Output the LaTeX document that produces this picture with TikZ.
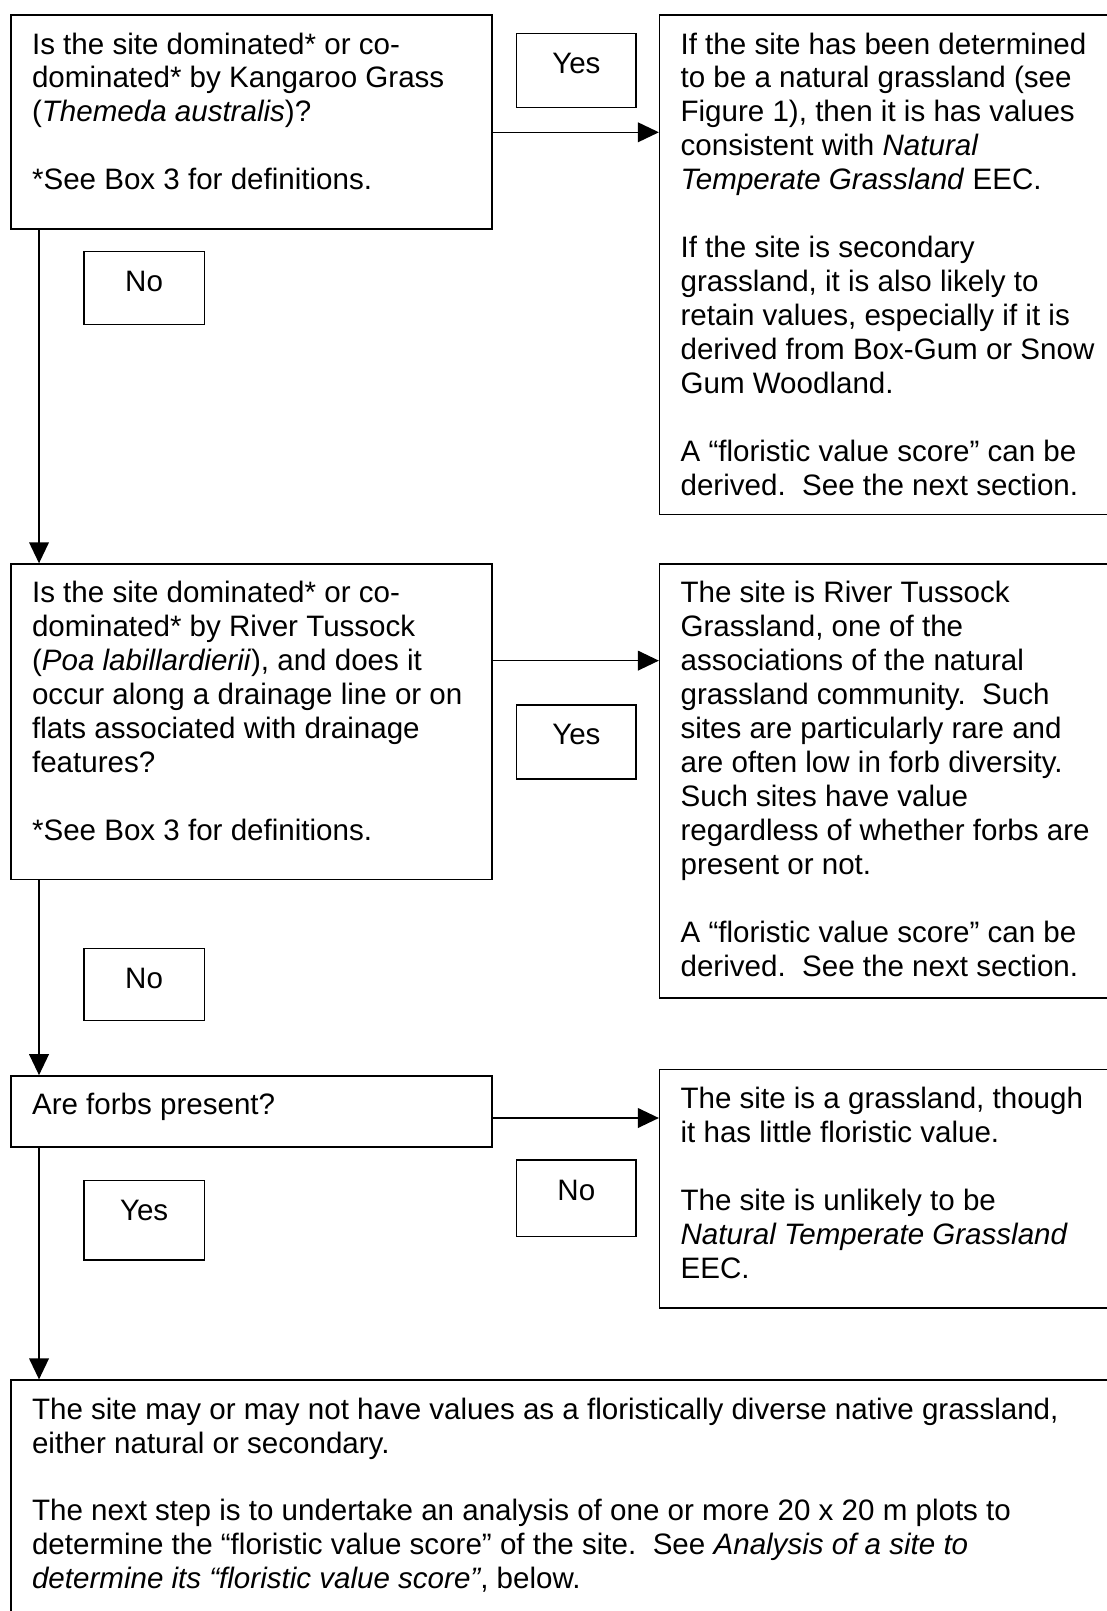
\documentclass[tikz,border=0pt]{standalone}
\usepackage{fontspec}
\setmainfont{Liberation Sans}
\usetikzlibrary{arrows.meta}

\tikzset{
  qbox/.style={draw, line width=0.6pt, anchor=north west, inner xsep=0.3cm, inner ysep=0.25cm},
  tagbox/.style={draw, line width=0.6pt, anchor=north west, inner xsep=0pt, inner ysep=0.28cm},
  flow/.style={line width=0.55pt, -{Triangle[length=8.5pt,width=8pt]}},
  every node/.style={font=\fontsize{12}{13.8}\selectfont}
}

\begin{document}
\begin{tikzpicture}
  \useasboundingbox (0,0) rectangle (15.8,22.994);

  \node[qbox] (q1) at (0.147,22.789) {%
    \begin{minipage}[t][2.552cm][t]{6.266cm}\raggedright
      Is the site dominated* or co-\\
      dominated* by Kangaroo Grass\\
      (\textit{Themeda australis})?\\[\baselineskip]
      *See Box 3 for definitions.
    \end{minipage}};
  \node[qbox] (a1) at (9.404,22.789) {%
    \begin{minipage}[t][6.631cm][t]{6.196cm}\raggedright
      If the site has been determined\\
      to be a natural grassland (see\\
      Figure 1), then it is has values\\
      consistent with \textit{Natural}\\
      \textit{Temperate Grassland} EEC.\\[\baselineskip]
      If the site is secondary\\
      grassland, it is also likely to\\
      retain values, especially if it is\\
      derived from Box-Gum or Snow\\
      Gum Woodland.\\[\baselineskip]
      A “floristic value score” can be\\
      derived.\ \ See the next section.
    \end{minipage}};
  \node[tagbox] (yes1) at (7.365,22.525) {%
    \begin{minipage}[t][0.497cm][t]{1.702cm}\centering Yes\end{minipage}};
  \node[tagbox] (no1) at (1.188,19.414) {%
    \begin{minipage}[t][0.481cm][t]{1.717cm}\centering No\end{minipage}};

  \node[qbox] (q2) at (0.147,14.954) {%
    \begin{minipage}[t][4.004cm][t]{6.266cm}\raggedright
      Is the site dominated* or co-\\
      dominated* by River Tussock\\
      (\textit{Poa labillardierii}), and does it\\
      occur along a drainage line or on\\
      flats associated with drainage\\
      features?\\[\baselineskip]
      *See Box 3 for definitions.
    \end{minipage}};
  \node[qbox] (a2) at (9.404,14.954) {%
    \begin{minipage}[t][5.691cm][t]{6.196cm}\raggedright
      The site is River Tussock\\
      Grassland, one of the\\
      associations of the natural\\
      grassland community.\ \ Such\\
      sites are particularly rare and\\
      are often low in forb diversity.\\
      Such sites have value\\
      regardless of whether forbs are\\
      present or not.\\[\baselineskip]
      A “floristic value score” can be\\
      derived.\ \ See the next section.
    \end{minipage}};
  \node[tagbox] (yes2) at (7.365,12.944) {%
    \begin{minipage}[t][0.496cm][t]{1.702cm}\centering Yes\end{minipage}};
  \node[tagbox] (no2) at (1.188,9.467) {%
    \begin{minipage}[t][0.467cm][t]{1.717cm}\centering No\end{minipage}};

  \node[qbox] (q3) at (0.147,7.648) {%
    \begin{minipage}[t][0.512cm][t]{6.266cm}\raggedright
      Are forbs present?
    \end{minipage}};
  \node[qbox] (a3) at (9.404,7.736) {%
    \begin{minipage}[t][2.903cm][t]{6.196cm}\raggedright
      The site is a grassland, though\\
      it has little floristic value.\\[\baselineskip]
      The site is unlikely to be\\
      \textit{Natural Temperate Grassland}\\
      EEC.
    \end{minipage}};
  \node[tagbox] (no3) at (7.365,6.445) {%
    \begin{minipage}[t][0.526cm][t]{1.702cm}\centering No\end{minipage}};
  \node[tagbox] (yes3) at (1.188,6.152) {%
    \begin{minipage}[t][0.570cm][t]{1.717cm}\centering Yes\end{minipage}};

  \node[qbox] (end) at (0.147,3.306) {%
    \begin{minipage}[t][3.1cm][t]{15.453cm}\raggedright
      The site may or may not have values as a floristically diverse native grassland,\\
      either natural or secondary.\\[\baselineskip]
      The next step is to undertake an analysis of one or more 20 x 20 m plots to\\
      determine the “floristic value score” of the site.\ \ See \textit{Analysis of a site to}\\
      \textit{determine its “floristic value score”}, below.
    \end{minipage}};

  \coordinate (e1) at ([yshift=-0.147cm]q1.east);
  \coordinate (e2) at ([yshift=0.873cm]q2.east);
  \coordinate (e3) at ([yshift=-0.095cm]q3.east);
  \draw[flow] (e1) -- (e1 -| a1.west);
  \draw[flow] (e2) -- (e2 -| a2.west);
  \draw[flow] (e3) -- (e3 -| a3.west);
  \draw[flow] ([xshift=0.41cm]q1.south west) -- ([xshift=0.41cm]q2.north west);
  \draw[flow] ([xshift=0.41cm]q2.south west) -- ([xshift=0.41cm]q3.north west);
  \draw[flow] ([xshift=0.41cm]q3.south west) -- ([xshift=0.41cm]end.north west);
\end{tikzpicture}
\end{document}
